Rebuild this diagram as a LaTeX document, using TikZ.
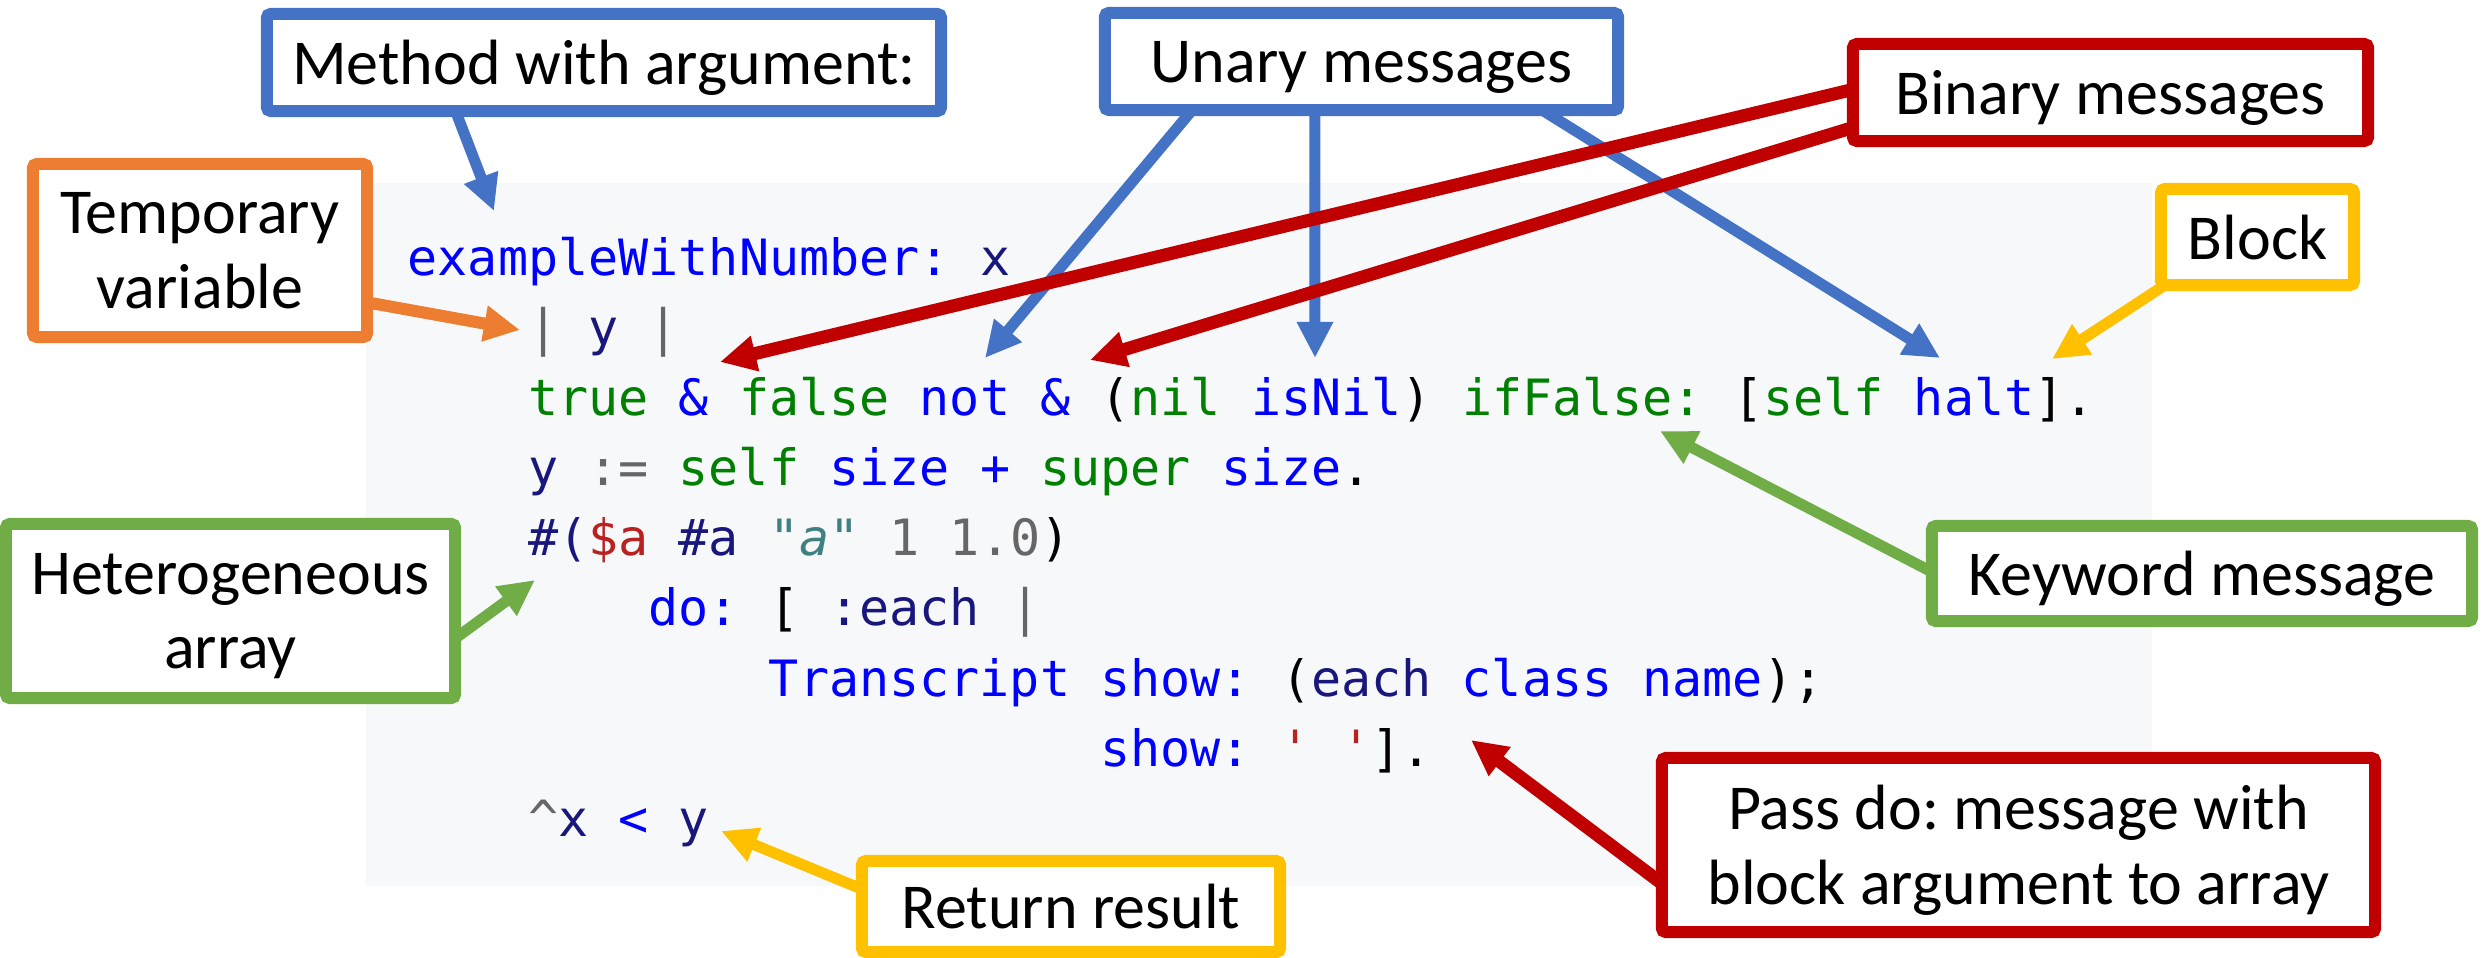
\documentclass[tikz,border=0pt]{standalone}
\usepackage{fontspec}
\setmainfont{Carlito}
\newfontfamily\codefont{DejaVu Sans Mono}
\usetikzlibrary{arrows.meta,calc}

% box outline colours
\definecolor{oblue}{HTML}{4472C4}
\definecolor{ored}{HTML}{C00000}
\definecolor{oorange}{HTML}{ED7D31}
\definecolor{ogreen}{HTML}{70AD47}
\definecolor{oyellow}{HTML}{FFC000}
% code listing colours
\definecolor{codebg}{HTML}{F6F8FA}
\definecolor{cmsg}{HTML}{0000FF}
\definecolor{ckw}{HTML}{008000}
\definecolor{cvar}{HTML}{19177C}
\definecolor{cop}{HTML}{666666}
\definecolor{cstr}{HTML}{BA2121}
\definecolor{ccom}{HTML}{408080}

\newcommand{\tmsg}[1]{\textcolor{cmsg}{#1}}
\newcommand{\tkw}[1]{\textcolor{ckw}{#1}}
\newcommand{\tvar}[1]{\textcolor{cvar}{#1}}
\newcommand{\tpun}[1]{\textcolor{cop}{#1}}
\newcommand{\tstr}[1]{\textcolor{cstr}{#1}}
\newcommand{\tcom}[1]{\textcolor{ccom}{\itshape #1}}

\newcommand{\labelfont}{\fontsize{18.2pt}{21.3pt}\selectfont\frenchspacing}
\newcommand{\listingfont}{\codefont\fontsize{14.23pt}{17pt}\selectfont\frenchspacing}

\pgfdeclarelayer{bg}
\pgfdeclarelayer{fg}
\pgfsetlayers{bg,main,fg}

\begin{document}
\begin{tikzpicture}[x=0.01cm,y=-0.01cm,
  callout/.style={draw=#1, line width=0.12cm, fill=white, rounded corners=0.04cm,
    inner sep=0pt, align=center, text depth=0pt, font=\labelfont},
  codeline/.style={inner sep=0pt, anchor=base west, font=\listingfont},
  pointer/.style={draw=#1, line width=0.11cm,
    -{Triangle[length=0.36cm,width=0.34cm]}},
  thickpointer/.style={pointer=#1, line width=0.13cm}]

\useasboundingbox (0,0) rectangle (2484,958);
\clip (0,0) rectangle (2484,958);

% code panel
\begin{pgfonlayer}{bg}
  \fill[codebg] (366,183) rectangle (2152,886);
\end{pgfonlayer}

% callout boxes
\begin{pgfonlayer}{fg}
  \node[callout=oblue, minimum width=6.74cm, minimum height=0.97cm] (method) at (604,62.5) {Method with argument:};
  \node[callout=oblue, minimum width=5.13cm, minimum height=0.97cm] (unary) at (1361.5,61.5) {Unary messages};
  \node[callout=ored, minimum width=5.15cm, minimum height=0.97cm] (binary) at (2110.5,92.5) {Binary messages};
  \node[callout=oorange, minimum width=3.34cm, minimum height=1.73cm] (temp) at (200,250.5) {Temporary\\variable};
  \node[callout=oyellow, minimum width=1.93cm, minimum height=0.96cm] (block) at (2257.5,237) {Block};
  \node[callout=ogreen, minimum width=4.49cm, minimum height=1.74cm] (hetero) at (230.5,611) {Heterogeneous\\array};
  \node[callout=ogreen, minimum width=5.40cm, minimum height=0.95cm] (keyword) at (2202,573.5) {Keyword message};
  \node[callout=ored, minimum width=7.13cm, minimum height=1.74cm] (pass) at (2018.5,845) {Pass do: message with\\block argument to array};
  \node[callout=oyellow, minimum width=4.18cm, minimum height=0.91cm] (ret) at (1071,906.5) {Return result};
\end{pgfonlayer}

% Smalltalk listing, one node per line (30.1 units per column)
\node[codeline] (c1) at (407,276) {\tmsg{exampleWithNumber:} \tvar{x}};
\node[codeline] (c2) at (527.4,346) {\tpun{|} \tvar{y} \tpun{|}};
\node[codeline] (c3) at (527.4,416) {\tkw{true} \tmsg{\&} \tkw{false} \tmsg{not} \tmsg{\&} (\tkw{nil} \tmsg{isNil}) \tkw{ifFalse:} [\tkw{self} \tmsg{halt}].};
\node[codeline] (c4) at (527.4,486) {\tvar{y} \tpun{:=} \tkw{self} \tmsg{size} \tmsg{+} \tkw{super} \tmsg{size}.};
\node[codeline] (c5) at (527.4,556) {\tvar{\#(}\tstr{\$a} \tvar{\#a} \tcom{"a"} \tpun{1} \tpun{1.0})};
\node[codeline] (c6) at (647.8,626) {\tmsg{do:} [ \tvar{:each} \tpun{|}};
\node[codeline] (c7) at (768.2,696) {\tmsg{Transcript} \tmsg{show:} (\tvar{each} \tmsg{class} \tmsg{name});};
\node[codeline] (c8) at (1099.3,766) {\tmsg{show:} \tstr{' '}].};
\node[codeline] (c9) at (527.4,836) {\tpun{\textasciicircum}\tvar{x} \tmsg{<} \tvar{y}};

% arrow targets inside the listing
\coordinate (selector) at (494,211);
\coordinate (temps) at (520,330);
\coordinate (notmsg) at (985,358);
\coordinate (isnilmsg) at (1315,358);
\coordinate (haltmsg) at (1940,358);
\coordinate (amp1) at (720,362);
\coordinate (amp2) at (1090,360);
\coordinate (blockend) at (2052,359);
\coordinate (iffalse) at (1660,431);
\coordinate (arraylit) at (535,580);
\coordinate (result) at (721,831);
\coordinate (doend) at (1471,740);

% pointers
\draw[pointer=oblue] ($(method.south west)+(194,-8)$) -- (selector);
\draw[pointer=oorange, line width=0.12cm] ($(temp.north east)+(-8,144)$) -- (temps);
\draw[pointer=oblue] ($(unary.south west)+(95,-8)$) -- (notmsg);
\draw[pointer=oblue] ($(unary.south west)+(216,-8)$) -- (isnilmsg);
\draw[pointer=oblue] ($(unary.south west)+(440,-8)$) -- (haltmsg);
\draw[thickpointer=ored] ($(binary.north west)+(8,51)$) -- (amp1);
\draw[thickpointer=ored] ($(binary.north west)+(8,89)$) -- (amp2);
\draw[pointer=oyellow] ($(block.south west)+(10,-6)$) -- (blockend);
\draw[pointer=ogreen] ($(keyword.north west)+(8,53)$) -- (iffalse);
\draw[pointer=ogreen] ($(hetero.north east)+(-8,122)$) -- (arraylit);
\draw[pointer=oyellow] ($(ret.north west)+(8,35)$) -- (result);
\draw[thickpointer=ored] ($(pass.north west)+(8,133)$) -- (doend);

\end{tikzpicture}
\end{document}
